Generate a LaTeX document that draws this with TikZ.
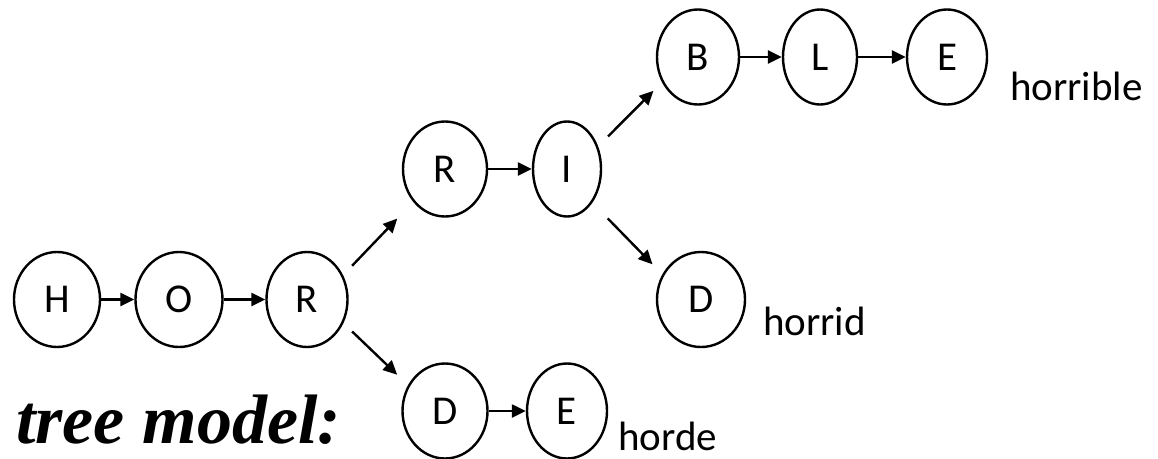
\documentclass[tikz,border=0pt]{standalone}
\usepackage{fontspec}
\setmainfont{Carlito}
\newfontfamily\titlefont{Liberation Serif}
\usetikzlibrary{shapes.geometric,arrows.meta}
\tikzset{
  letter/.style={draw, ellipse, line width=2.4pt, inner sep=0pt, minimum height=95pt, font=\fontsize{41}{41}\selectfont},
  arr/.style={line width=2.4pt, -{Triangle[length=14pt,width=13pt]}},
  word/.style={anchor=base west, inner sep=0pt, font=\fontsize{41}{41}\selectfont}
}
\begin{document}
\begin{tikzpicture}[x=1pt,y=-1pt]
\useasboundingbox (0,0) rectangle (1158,458);

\node[letter, minimum width=86pt] (h) at (57,299.5) {H};
\node[letter, minimum width=87pt] (o) at (179,299.5) {O};
\node[letter, minimum width=81pt] (r1) at (307,299.5) {R};

\node[letter, minimum width=84pt] (r2) at (445,169) {R};
\node[letter, minimum width=68pt] (i) at (567,169) {I};

\node[letter, minimum width=82pt] (b) at (698,57) {B};
\node[letter, minimum width=74pt] (l) at (820,57) {L};
\node[letter, minimum width=80pt] (e1) at (947,57) {E};

\node[letter, minimum width=88pt] (d1) at (701,299.5) {D};

\node[letter, minimum width=85pt] (d2) at (445,411) {D};
\node[letter, minimum width=80pt] (e2) at (567,411) {E};

\draw[arr] (h) -- (o);
\draw[arr] (o) -- (r1);
\draw[arr] (r2) -- (i);
\draw[arr] (b) -- (l);
\draw[arr] (l) -- (e1);
\draw[arr] (d2) -- (e2);

\draw[arr, shorten <=13pt, shorten >=23pt] (r1.34) -- (r2.226);
\draw[arr, shorten <=12pt, shorten >=15pt] (r1.-33) -- (d2.145);
\draw[arr, shorten <=14pt, shorten >=12pt] (i.36) -- (b.215);
\draw[arr, shorten <=22pt, shorten >=14pt] (i.-53) -- (d1.147);

\node[word] (horrible) at (1010,100) {horrible};
\node[word] (horrid) at (763,335) {horrid};
\node[word] (horde) at (618,450) {horde};

\node[anchor=base west, inner sep=0pt, font=\titlefont\bfseries\itshape\fontsize{70}{70}\selectfont] (model) at (16,443) {tree model:};
\end{tikzpicture}
\end{document}
